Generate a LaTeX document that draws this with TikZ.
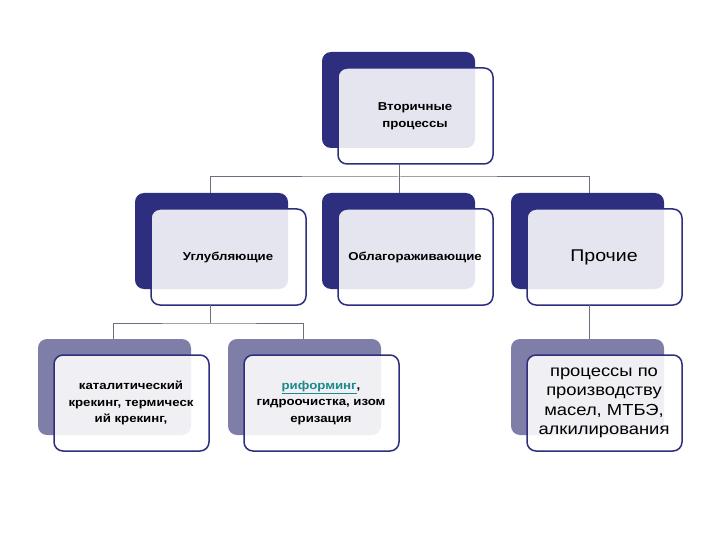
\documentclass[tikz,border=0pt]{standalone}
\usepackage{fontspec}
\setmainfont[FakeStretch=1.15]{Liberation Sans}
\definecolor{navy}{HTML}{2E2E7E}
\definecolor{lav}{HTML}{7E7EA8}
\definecolor{lnk}{HTML}{1A8A8A}
\begin{document}
\begin{tikzpicture}[x=1pt,y=-1pt,
  backbox/.style={fill=#1,rounded corners=9pt},
  frontbox/.style={draw=navy,line width=1.5pt,fill=white,fill opacity=0.88,text opacity=1,rounded corners=9pt},
  conn/.style={draw=gray!80!navy,line width=1pt},
  lbl/.style={font=\bfseries\fontsize{11.5}{16.5}\selectfont,align=center,text=black}]
\useasboundingbox (0,0) rectangle (720,540);
\newcommand\mybox[6]{% name, x, y, color, text style, text
  \fill[backbox=#4] (#2,#3) rectangle ++(153,96);
  \path[frontbox] (#2+16,#3+16) rectangle ++(155,96);
  \node[#5] (#1) at (#2+16+77,#3+16+48) {#6};
  \coordinate (#1t) at (#2+75,#3);
  \coordinate (#1b) at (#2+91,#3+112);
}
\mybox{top}{322}{52}{navy}{lbl}{Вторичные\\процессы}
\mybox{a}{135}{193}{navy}{lbl}{Углубляющие}
\mybox{b}{322}{193}{navy}{lbl}{Облагораживающие}
\mybox{c}{511}{193}{navy}{font=\fontsize{17}{20}\selectfont}{Прочие}
\mybox{d}{38}{339}{lav}{lbl}{каталитический\\крекинг, термическ\\ий крекинг,}
\mybox{e}{228}{339}{lav}{lbl}{\textcolor{lnk}{\underline{риформинг}},\\гидроочистка, изом\\еризация}
\mybox{f}{511}{339}{lav}{font=\fontsize{16}{19.5}\selectfont,align=center}{процессы по\\производству\\масел, МТБЭ,\\алкилирования}
\coordinate (j1) at (399,177);
\coordinate (j2) at (210,323);
\draw[conn] (399,164) -- (j1);
\draw[conn] (210,193) |- (j1) -| (589,193);
\draw[conn] (j1) -- (399,193);
\draw[conn] (210,305) -- (j2);
\draw[conn] (113,339) |- (j2) -| (303,339);
\draw[conn] (589,305) -- (589,339);
\end{tikzpicture}
\end{document}
